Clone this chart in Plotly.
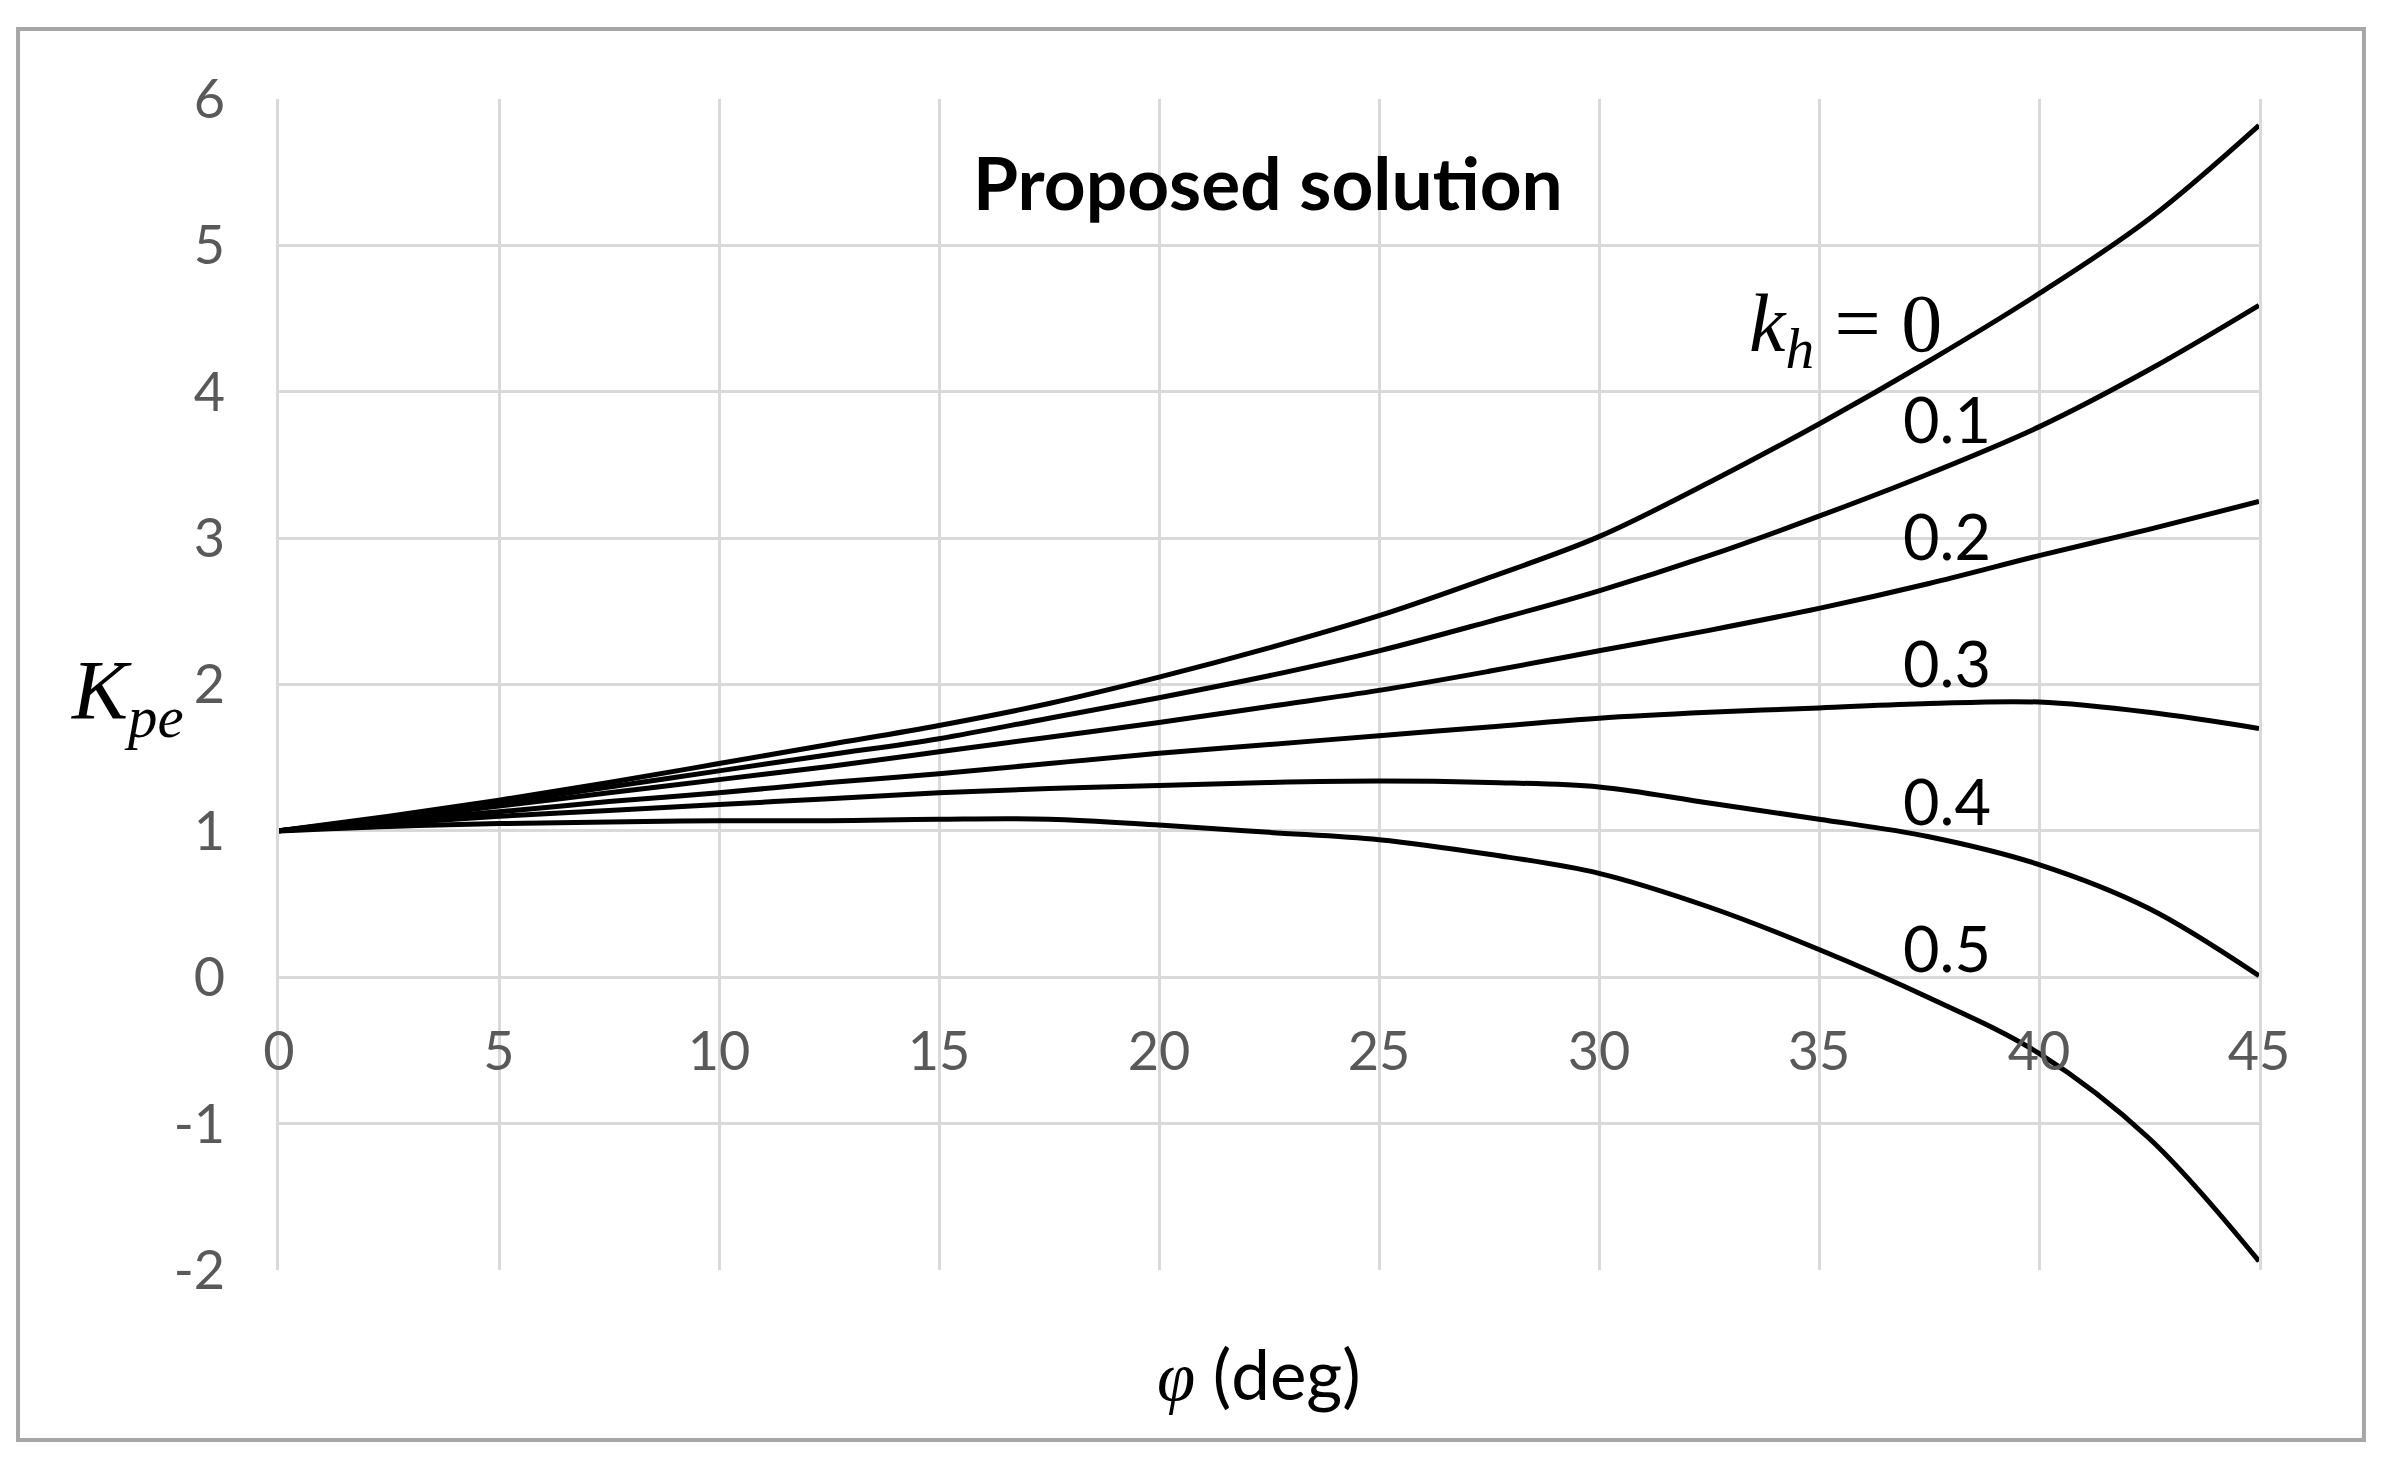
import plotly.graph_objects as go

# friction angle (deg)
phi = [0, 2.5, 5, 7.5, 10, 12.5, 15, 17.5, 20, 22.5, 25, 27.5, 30, 32.5, 35, 37.5, 40, 42.5, 45]

# Kpe curves, one per kh value
kpe_kh_00 = [1.00, 1.10, 1.21, 1.33, 1.46, 1.59, 1.72, 1.87, 2.05, 2.25, 2.47, 2.73, 3.01, 3.38, 3.78, 4.21, 4.67, 5.18, 5.82]
kpe_kh_01 = [1.00, 1.09, 1.19, 1.30, 1.41, 1.52, 1.63, 1.77, 1.91, 2.06, 2.23, 2.43, 2.64, 2.88, 3.15, 3.44, 3.76, 4.15, 4.59]
kpe_kh_02 = [1.00, 1.08, 1.17, 1.26, 1.35, 1.44, 1.54, 1.64, 1.74, 1.85, 1.96, 2.09, 2.23, 2.37, 2.52, 2.69, 2.88, 3.06, 3.25]
kpe_kh_03 = [1.00, 1.07, 1.13, 1.20, 1.26, 1.33, 1.39, 1.46, 1.53, 1.59, 1.65, 1.71, 1.77, 1.81, 1.84, 1.87, 1.88, 1.81, 1.70]
kpe_kh_04 = [1.00, 1.05, 1.10, 1.14, 1.18, 1.22, 1.26, 1.29, 1.31, 1.33, 1.34, 1.33, 1.30, 1.19, 1.08, 0.96, 0.77, 0.47, 0.01]
kpe_kh_05 = [1.00, 1.03, 1.05, 1.06, 1.07, 1.07, 1.08, 1.08, 1.04, 0.99, 0.94, 0.84, 0.71, 0.48, 0.19, -0.14, -0.52, -1.10, -1.94]

curves = [kpe_kh_00, kpe_kh_01, kpe_kh_02, kpe_kh_03, kpe_kh_04, kpe_kh_05]
curve_labels = ["0", "0.1", "0.2", "0.3", "0.4", "0.5"]

x_ticks = [0, 5, 10, 15, 20, 25, 30, 35, 40, 45]
y_ticks = [-2, -1, 0, 1, 2, 3, 4, 5, 6]
y_tick_labels = ["-2", "-1", "0", "1", "2", "3", "4", "5", "6"]

title_text = "Proposed solution"

GRID = "#d9d9d9"
TICK_COLOR = "#595959"
SANS = "Lato"
SERIF = "Liberation Serif"

fig = go.Figure()

for kh, y in zip(curve_labels, curves):
    fig.add_trace(
        go.Scatter(
            x=phi,
            y=y,
            mode="lines",
            name=kh,
            line=dict(color="black", width=5, shape="spline", smoothing=1.0),
            showlegend=False,
            hoverinfo="skip",
        )
    )

# curve labels, placed next to the curves on the right hand side
label_pos = {"0.1": 3.82, "0.2": 3.02, "0.3": 2.15, "0.4": 1.21, "0.5": 0.20}
annotations = []
for kh in curve_labels[1:]:
    annotations.append(dict(x=37.9, y=label_pos[kh], xref="x", yref="y", text=kh,
                            xanchor="center", yanchor="middle",
                            showarrow=False, font=dict(family=SANS, size=63, color="black")))

annotations.append(dict(x=35.6, y=4.43, xref="x", yref="y",
                        text="<i>k</i><sub><i>h</i></sub> = 0",
                        xanchor="center", yanchor="middle",
                        showarrow=False, font=dict(family=SERIF, size=82, color="black")))

annotations.append(dict(x=0.4995, y=0.929, xref="paper", yref="paper", text="<b>" + title_text + "</b>",
                        xanchor="center", yanchor="middle",
                        showarrow=False, font=dict(family=SANS, size=73, color="black")))

annotations.append(dict(x=-0.0763, y=0.489, xref="paper", yref="paper",
                        text="<i>K</i><sub><i>pe</i></sub>",
                        xanchor="center", yanchor="middle",
                        showarrow=False, font=dict(family=SERIF, size=84, color="black")))

annotations.append(dict(x=0.495, y=-0.0885, xref="paper", yref="paper",
                        text="<span style='font-family:Liberation Serif'><i>φ</i></span> (deg)",
                        xanchor="center", yanchor="middle",
                        showarrow=False, font=dict(family=SANS, size=69, color="black")))

fig.update_layout(
    width=2382,
    height=1469,
    margin={"l": 271, "r": 131, "t": 91, "b": 207},
    paper_bgcolor="white",
    plot_bgcolor="white",
    annotations=annotations,
    xaxis=dict(
        range=[0, 45],
        tickvals=x_ticks,
        showgrid=True,
        gridcolor=GRID,
        gridwidth=3,
        zeroline=False,
        showline=False,
        anchor="free",
        position=0.25,
        ticks="",
        ticklabelstandoff=38,
        tickfont=dict(family=SANS, size=54, color=TICK_COLOR),
    ),
    yaxis=dict(
        range=[-2, 6],
        tickvals=y_ticks,
        ticktext=y_tick_labels,
        showgrid=True,
        gridcolor=GRID,
        gridwidth=3,
        zeroline=False,
        showline=True,
        mirror=True,
        linecolor=GRID,
        linewidth=3,
        ticks="",
        ticklabelstandoff=40,
        tickfont=dict(family=SANS, size=54, color=TICK_COLOR),
    ),
    shapes=[
        dict(type="rect", xref="paper", yref="paper",
             x0=-0.1318, x1=1.0530, y0=-0.1452, y1=1.0598,
             line=dict(color="#a6a6a6", width=4), layer="below"),
    ],
)

fig.write_html("out.html")
